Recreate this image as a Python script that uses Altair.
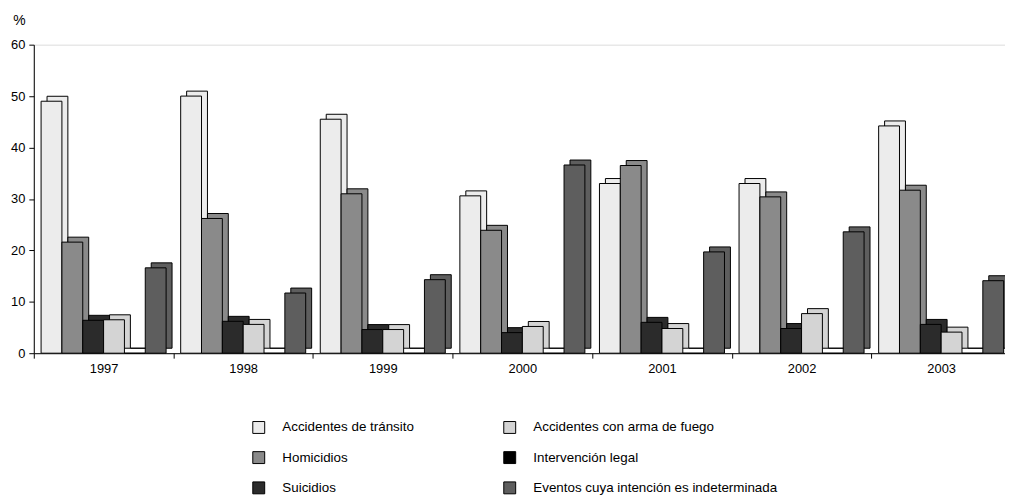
import altair as alt
import pandas as pd

years = ["1997", "1998", "1999", "2000", "2001", "2002", "2003"]

transito = [49.0, 50.0, 45.5, 30.6, 33.0, 33.0, 44.2]
homicidios = [21.6, 26.2, 31.0, 23.9, 36.5, 30.4, 31.7]
suicidios = [6.4, 6.2, 4.6, 4.0, 6.0, 4.8, 5.6]
arma_fuego = [6.5, 5.6, 4.6, 5.2, 4.8, 7.7, 4.1]
intervencion = [0.0, 0.0, 0.0, 0.0, 0.0, 0.0, 0.0]
eventos = [16.6, 11.7, 14.3, 36.6, 19.7, 23.6, 14.1]

names = {
    "tr": "Accidentes de tránsito",
    "ho": "Homicidios",
    "su": "Suicidios",
    "ar": "Accidentes con arma de fuego",
    "il": "Intervención legal",
    "ev": "Eventos cuya intención es indeterminada",
}

series = [
    (names["tr"], transito),
    (names["ho"], homicidios),
    (names["su"], suicidios),
    (names["ar"], arma_fuego),
    (names["il"], intervencion),
    (names["ev"], eventos),
]
bar_order = [s for s, _ in series]
colors = ["#ececec", "#8a8a8a", "#2b2b2b", "#d4d4d4", "#000000", "#5e5e5e"]

rows = []
for s, vals in series:
    for y, v in zip(years, vals):
        rows.append({"year": y, "serie": s, "valor": v})
df = pd.DataFrame(rows)

FONT = "Liberation Sans"
BAND = 985 / 7
DEPTH_X = 6
DEPTH_Y = 5

x_enc = alt.X(
    "year:N",
    sort=years,
    scale=alt.Scale(range=[0, 985], paddingInner=0, paddingOuter=0),
    axis=alt.Axis(
        title=None, labelAngle=0, tickBand="extent", tickSize=5,
        labelPadding=4, labelFontSize=13, labelColor="black",
        domainColor="black", tickColor="black",
    ),
)
y_enc = alt.Y(
    "valor:Q",
    scale=alt.Scale(domain=[0, 60], nice=False),
    axis=alt.Axis(
        values=[0, 10, 20, 30, 40, 50, 60], grid=False, tickSize=5,
        labelPadding=4, labelFontSize=13, labelColor="black",
        domainColor="black", tickColor="black",
        title="%", titleAngle=0, titleX=-15, titleY=-24,
        titleAlign="center", titleBaseline="middle",
        titleFontSize=14, titleFontWeight="normal", titleColor="black",
    ),
)
color_enc = alt.Color(
    "serie:N",
    scale=alt.Scale(domain=bar_order, range=colors),
    legend=alt.Legend(
        title=None, orient="none", legendX=220, legendY=379,
        columns=2, columnPadding=87, rowPadding=13.5,
        symbolType="square", symbolSize=144, symbolStrokeColor="black",
        symbolStrokeWidth=1, symbolOpacity=1, labelOffset=17,
        labelFontSize=13.5, labelColor="black", labelLimit=400, padding=0,
    ),
)

back = alt.Chart(df).mark_bar(
    stroke="black", strokeWidth=1, yOffset=-DEPTH_Y
).encode(
    x=x_enc,
    xOffset=alt.XOffset(
        "serie:N", sort=bar_order,
        scale=alt.Scale(range=[DEPTH_X, BAND + DEPTH_X], paddingInner=0, paddingOuter=0.35),
    ),
    y=y_enc,
    color=color_enc,
)

front = alt.Chart(df).mark_bar(stroke="black", strokeWidth=1).encode(
    x=x_enc,
    xOffset=alt.XOffset(
        "serie:N", sort=bar_order,
        scale=alt.Scale(range=[0, BAND], paddingInner=0, paddingOuter=0.35),
    ),
    y=y_enc,
    color=color_enc,
)

chart = alt.layer(back, front).resolve_scale(xOffset="independent").properties(
    width=979,
    height=311,
    autosize=alt.AutoSizeParams(type="none"),
    padding={"left": 26, "top": 35, "right": 0, "bottom": 143},
).configure_view(stroke=None).configure(font=FONT)

chart.save("out.html", embed_options={"renderer": "svg", "actions": False})
